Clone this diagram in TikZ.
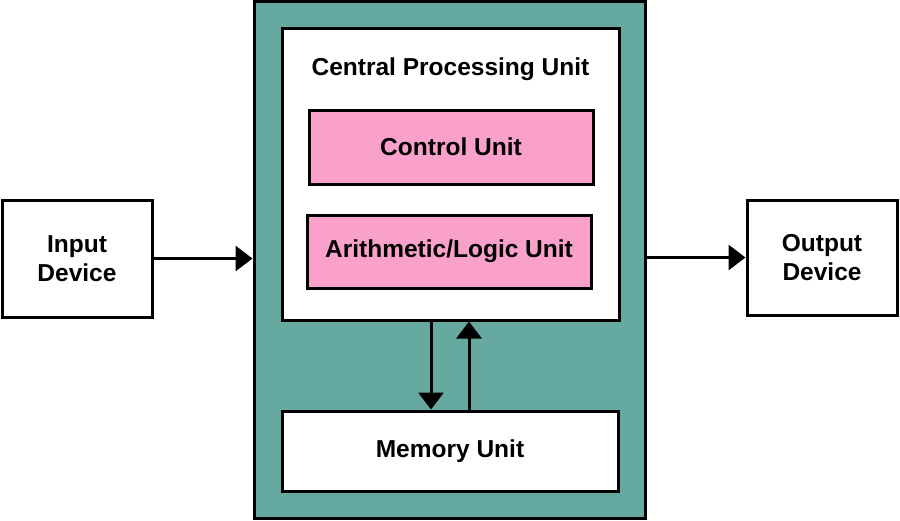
\documentclass[tikz,border=0pt]{standalone}
\usepackage{fontspec}
\setmainfont{Liberation Sans}
\usetikzlibrary{arrows.meta}
\definecolor{tealbg}{RGB}{102,169,161}
\definecolor{pinkbox}{RGB}{249,160,203}
\begin{document}
\begin{tikzpicture}[x=1pt,y=-1pt,
  box/.style={draw=black,line width=3pt,inner sep=0pt,align=center,
    font=\fontsize{24.5}{29}\selectfont\bfseries},
  arr/.style={line width=3pt,-{Triangle[length=17pt,width=25pt]}}]
\useasboundingbox (0,0) rectangle (900,520);
\node[box,fill=tealbg,minimum width=391pt,minimum height=517pt] (teal) at (449.5,259.5) {};
\node[box,fill=white,minimum width=337pt,minimum height=292pt] (cpu) at (450.5,174) {};
\node[font=\fontsize{24.5}{29}\selectfont\bfseries] (cputxt) at (450.5,69) {Central Processing Unit};
\node[box,fill=pinkbox,minimum width=284pt,minimum height=74pt] (cu) at (451,147) {Control Unit};
\node[box,fill=pinkbox,minimum width=284pt,minimum height=73pt] (alu) at (449,251.5) {Arithmetic/Logic Unit};
\node[box,fill=white,minimum width=336pt,minimum height=80pt] (mem) at (450,451) {Memory Unit};
\node[box,fill=white,minimum width=150pt,minimum height=117pt] (in) at (77,258.5) {Input\\Device};
\node[box,fill=white,minimum width=150pt,minimum height=115pt] (out) at (822,257.5) {Output\\Device};
\draw[arr] (in.east) -- (in.east -| teal.west);
\draw[arr] (teal.east |- out.west) -- (out.west);
\draw[arr] ([xshift=-19.5pt]cpu.south) -- ([xshift=-19.5pt]cpu.south |- mem.north);
\draw[arr] ([xshift=18.5pt]cpu.south |- mem.north) -- ([xshift=18.5pt]cpu.south);
\end{tikzpicture}
\end{document}
